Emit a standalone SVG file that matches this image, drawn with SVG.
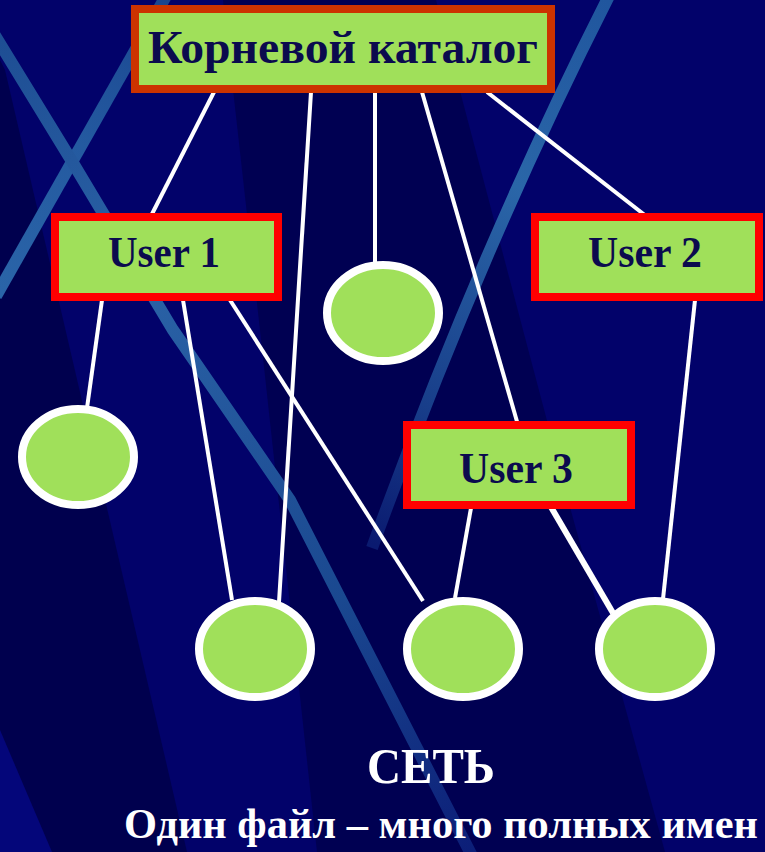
<svg xmlns="http://www.w3.org/2000/svg" width="765" height="852" viewBox="0 0 765 852">
<style>
.box{fill:#A0E05A;stroke:#FF0000;stroke-width:8}
.root{fill:#A0E05A;stroke:#CC3300;stroke-width:8}
.leaf{fill:#A0E05A;stroke:#FFFFFF;stroke-width:8}
.lbl{font-family:"Liberation Serif","Times New Roman",serif;font-weight:bold;fill:#0B0B4E;text-anchor:middle}
.cap{font-family:"Liberation Serif","Times New Roman",serif;font-weight:bold;fill:#FFFFFF;text-anchor:middle}
.edge{stroke:#FFFFFF;stroke-width:4;fill:none}
.stripe{fill:none;stroke-width:12;stroke-linecap:butt}
</style>
<defs>
<linearGradient id="gA" x1="0" y1="40" x2="470" y2="852" gradientUnits="userSpaceOnUse">
<stop offset="0" stop-color="#1E4E94"/>
<stop offset="0.3" stop-color="#2A62A6"/>
<stop offset="0.7" stop-color="#1A4890"/>
<stop offset="1" stop-color="#0C1E78"/>
</linearGradient>
<linearGradient id="gB" x1="163" y1="0" x2="0" y2="290" gradientUnits="userSpaceOnUse">
<stop offset="0" stop-color="#1A4690"/>
<stop offset="0.5" stop-color="#245AA0"/>
<stop offset="1" stop-color="#2A64A8"/>
</linearGradient>
<linearGradient id="gC" x1="607" y1="0" x2="375" y2="545" gradientUnits="userSpaceOnUse">
<stop offset="0" stop-color="#20569E"/>
<stop offset="0.35" stop-color="#2A66A8"/>
<stop offset="0.75" stop-color="#183E8A"/>
<stop offset="1" stop-color="#0A1A70"/>
</linearGradient>
</defs>
<g id="background">
<rect x="0" y="0" width="765" height="852" fill="#02026A"/>
<polygon points="0,60 5,70 187,852 0,852" fill="#00004E"/>
<polygon points="0,730 52,852 0,852" fill="#04067A"/>
<polygon points="223,0 436,0 523,330 568,500 665,852 317,852 260,330" fill="#000052"/>
<path class="stripe" stroke="url(#gB)" d="M166,-4 L-4,296"/>
<path class="stripe" stroke="url(#gA)" d="M-6,34 L73,163 L173,330 L290,500 L472,856"/>
<path class="stripe" stroke="url(#gC)" d="M609,-4 Q480,250 372,548"/>
</g>
<g id="connectors">
<line class="edge" x1="214" y1="92" x2="151" y2="216"/>
<line class="edge" x1="311" y1="92" x2="279" y2="602"/>
<line class="edge" x1="375" y1="92" x2="375" y2="264"/>
<line class="edge" x1="422" y1="92" x2="518" y2="425"/>
<line class="edge" x1="487" y1="92" x2="646" y2="216"/>
<line class="edge" x1="102" y1="300" x2="87" y2="408"/>
<line class="edge" x1="183" y1="300" x2="232" y2="600"/>
<line class="edge" x1="230" y1="300" x2="423" y2="601"/>
<line class="edge" x1="695" y1="300" x2="663" y2="599"/>
<line class="edge" x1="471" y1="508" x2="455" y2="598"/>
<line class="edge" style="stroke-width:6" x1="551" y1="507" x2="613" y2="613"/>
</g>
<g id="root">
<rect class="root" x="135" y="9" width="416" height="80"/>
<text class="lbl" x="343" y="63" font-size="46" textLength="390" lengthAdjust="spacingAndGlyphs">Корневой каталог</text>
</g>
<g id="user1">
<rect class="box" x="55" y="217" width="223" height="80"/>
<text class="lbl" x="164" y="267" font-size="45" textLength="112" lengthAdjust="spacingAndGlyphs">User 1</text>
</g>
<g id="user2">
<rect class="box" x="535" y="217" width="224" height="80"/>
<text class="lbl" x="645" y="267" font-size="45" textLength="114" lengthAdjust="spacingAndGlyphs">User 2</text>
</g>
<g id="user3">
<rect class="box" x="407" y="425" width="224" height="80"/>
<text class="lbl" x="516" y="483" font-size="45" textLength="114" lengthAdjust="spacingAndGlyphs">User 3</text>
</g>
<g id="file-root"><ellipse class="leaf" cx="383" cy="313" rx="56" ry="48"/></g>
<g id="file-u1"><ellipse class="leaf" cx="78" cy="457" rx="56" ry="48"/></g>
<g id="file-a"><ellipse class="leaf" cx="255" cy="649" rx="56" ry="48"/></g>
<g id="file-b"><ellipse class="leaf" cx="463" cy="649" rx="56" ry="48"/></g>
<g id="file-c"><ellipse class="leaf" cx="655" cy="649" rx="56" ry="48"/></g>
<g id="captions">
<text class="cap" x="431" y="783" font-size="50" textLength="128" lengthAdjust="spacingAndGlyphs">СЕТЬ</text>
<text class="cap" x="441" y="838" font-size="42" textLength="634" lengthAdjust="spacingAndGlyphs">Один файл – много полных имен</text>
</g>
</svg>
